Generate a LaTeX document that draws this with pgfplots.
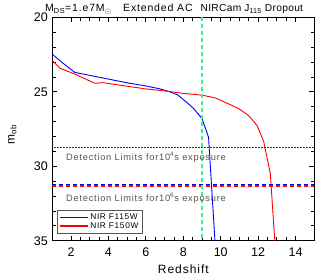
\documentclass[border=0pt]{standalone}
\usepackage{pgfplots}
\pgfplotsset{compat=1.18}
\usepackage{fontspec}
\setmainfont{Liberation Sans}
\newfontfamily\wide[LetterSpace=8]{Liberation Sans}
\newfontfamily\wideb[LetterSpace=3]{Liberation Sans}
\definecolor{ngreen}{RGB}{60,240,140}
\definecolor{dgray}{RGB}{85,85,85}
\begin{document}
\begin{tikzpicture}
\begin{axis}[name=ax,
  width=262pt, height=223.2pt, scale only axis,
  xmin=1, xmax=15, ymin=20, ymax=35, y dir=reverse,
  xtick={2,4,...,14}, ytick={20,25,30,35},
  minor x tick num=3, minor y tick num=4,
  tick align=inside, major tick length=5pt, minor tick length=3.5pt,
  every tick/.style={black, line width=0.8pt},
  axis line style={line width=0.8pt},
  tick label style={font=\fontsize{12.5}{13}\selectfont},
  /pgf/number format/assume math mode=true,
  xticklabel style={yshift=-4pt},
  yticklabel style={xshift=-1pt},
  legend style={at={(0.019,0.033)}, anchor=south west, draw=dgray, line width=0.6pt,
     font=\wide\fontsize{8.3}{9}\selectfont, inner sep=1.5pt, row sep=-3pt,
     legend cell align=left},
  legend image code/.code={\draw[#1, line width=1.3pt] (0pt,0pt) -- (28pt,0pt);},
  clip=true,
]
\addplot[blue, line width=0.9pt] coordinates {
(1,22.47) (1.6,23.1) (2.2,23.69) (3.53,24.02) (3.8,24.09) (5.13,24.42)
(6,24.6) (6.7,24.78) (7.25,24.98) (7.7,25.2) (8.14,25.66) (8.5,26.05) (8.84,26.55) (9,26.8) (9.35,28.05) (9.5,31.1) (9.7,35.2)};
\addlegendentry{NIR F115W}
\addplot[red, line width=0.9pt] coordinates {
(1,22.9) (1.41,23.41) (2.2,23.8) (3.27,24.42) (3.71,24.38) (5.13,24.64)
(6,24.8) (7,24.93) (8,25.1) (9,25.22) (9.7,25.4) (10.5,25.85) (11,26.15) (11.5,26.6)
(11.95,27.27) (12.3,28.35) (12.65,30.5) (12.9,35.2)};
\addlegendentry{NIR F150W}
\addplot[red, line width=1.2pt, dash pattern=on 1pt off 2pt, forget plot] coordinates {(1,28.75) (15,28.75)};
\addplot[blue, line width=1.2pt, dash pattern=on 1pt off 2pt, dash phase=1.5pt, forget plot] coordinates {(1,28.75) (15,28.75)};
\addplot[red, line width=1.2pt, dash pattern=on 4pt off 3pt, forget plot] coordinates {(1,31.32) (15,31.32)};
\addplot[blue, line width=1.2pt, dash pattern=on 4pt off 3pt, forget plot] coordinates {(1,31.2) (15,31.2)};
\addplot[ngreen, line width=1.4pt, dash pattern=on 4pt off 3pt, forget plot] coordinates {(9,20) (9,35)};
\node[anchor=west, text=dgray, font=\wide\fontsize{9.3}{10}\selectfont, inner sep=0pt] at (axis cs:1.73,29.37) {Detection Limits for10\textsuperscript{4}s exposure};
\node[anchor=west, text=dgray, font=\wide\fontsize{9.3}{10}\selectfont, inner sep=0pt] at (axis cs:1.73,32.13) {Detection Limits for10\textsuperscript{6}s exposure};
\end{axis}
\node[anchor=base west, font=\wide\fontsize{10.5}{11}\selectfont, inner sep=0pt] at ([xshift=-7.3pt,yshift=5.5pt]ax.north west) {M\textsubscript{DS}=1.e7M$_\odot$};
\node[anchor=base west, font=\wide\fontsize{10.5}{11}\selectfont, inner sep=0pt] at ([xshift=70.7pt,yshift=5.5pt]ax.north west) {Extended AC};
\node[anchor=base east, font=\wideb\fontsize{10.2}{11}\selectfont, inner sep=0pt] at ([xshift=-11pt,yshift=5.5pt]ax.north east) {NIRCam J\textsubscript{115} Dropout};
\node[anchor=north, font=\wide\fontsize{12}{13}\selectfont, inner sep=0pt] at ([yshift=-24pt]ax.south) {Redshift};
\node[rotate=90, anchor=center, font=\wide\fontsize{12}{13}\selectfont, inner sep=0pt] at ([xshift=-40pt,yshift=-5pt]ax.west) {m\textsubscript{ob}};
\pgfresetboundingbox
\path[use as bounding box] ([xshift=-52.3pt,yshift=-34.3pt]ax.south west) rectangle ++(330pt,275pt);
\end{tikzpicture}
\end{document}
